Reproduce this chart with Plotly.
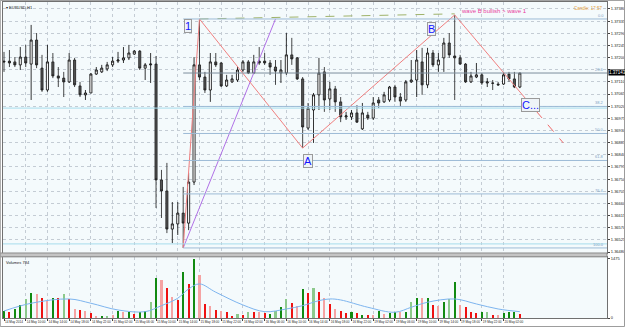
import plotly.graph_objects as go
from plotly.subplots import make_subplots

# ---------------- data ----------------
candle_open = [1.37187,1.37187,1.37184,1.37173,1.37202,1.37176,1.37265,1.37161,1.37080,1.37184,
               1.37132,1.37124,1.37110,1.37191,1.37095,1.37062,1.37069,1.37139,1.37147,1.37158,
               1.37173,1.37187,1.37191,1.37199,1.37213,1.37224,1.37161,1.37173,1.37176,1.36747,
               1.36706,1.36565,1.36584,1.36624,1.36587,1.36739,1.37173,1.37128,1.37080,1.37184,
               1.37180,1.37095,1.37110,1.37117,1.37154,1.37184,1.37143,1.37187,1.37187,1.37180,
               1.37165,1.37143,1.37143,1.37210,1.37199,1.37121,1.36939,1.37006,1.37062,1.37147,
               1.37047,1.37084,1.37036,1.36980,1.36980,1.36995,1.36936,1.36987,1.36976,1.37043,
               1.37036,1.37043,1.37091,1.37054,1.37043,1.37110,1.37117,1.37184,1.37099,1.37217,
               1.37173,1.37199,1.37254,1.37206,1.37199,1.37176,1.37110,1.37128,1.37136,1.37106,
               1.37106,1.37102,1.37102,1.37139,1.37121,1.37091]
candle_high = [1.37221,1.37228,1.37202,1.37239,1.37247,1.37321,1.37291,1.37210,1.37247,1.37217,
               1.37165,1.37147,1.37217,1.37199,1.37110,1.37080,1.37143,1.37165,1.37173,1.37184,
               1.37202,1.37221,1.37239,1.37247,1.37228,1.37228,1.37180,1.37217,1.37206,1.36784,
               1.36810,1.36665,1.36665,1.36721,1.36773,1.37202,1.37343,1.37147,1.37217,1.37217,
               1.37184,1.37136,1.37136,1.37165,1.37191,1.37191,1.37210,1.37239,1.37217,1.37191,
               1.37191,1.37191,1.37291,1.37273,1.37202,1.37128,1.37032,1.37069,1.37199,1.37165,
               1.37110,1.37095,1.37054,1.36999,1.37006,1.37024,1.37032,1.36999,1.37054,1.37054,
               1.37073,1.37095,1.37099,1.37069,1.37117,1.37191,1.37228,1.37236,1.37236,1.37228,
               1.37217,1.37273,1.37291,1.37358,1.37210,1.37180,1.37147,1.37180,1.37143,1.37124,
               1.37117,1.37110,1.37147,1.37147,1.37147,1.37143]
candle_low = [1.37147,1.37165,1.37165,1.37154,1.37165,1.37043,1.37161,1.37073,1.37073,1.37124,
              1.37091,1.37054,1.37106,1.37091,1.37054,1.37043,1.37069,1.37136,1.37143,1.37150,
              1.37165,1.37180,1.37180,1.37191,1.37210,1.37154,1.37117,1.37106,1.36643,1.36606,
              1.36550,1.36513,1.36543,1.36495,1.36561,1.36728,1.37117,1.37069,1.37036,1.37165,
              1.37091,1.37091,1.37106,1.37110,1.37147,1.37139,1.37139,1.37173,1.37173,1.37136,
              1.37099,1.37106,1.37136,1.37173,1.37117,1.36865,1.36932,1.36884,1.37006,1.36999,
              1.37006,1.36999,1.36961,1.36969,1.36969,1.36958,1.36932,1.36969,1.36969,1.37013,
              1.37032,1.37036,1.37036,1.37017,1.37036,1.37106,1.37054,1.37062,1.37087,1.37165,
              1.37147,1.37147,1.37199,1.37043,1.37173,1.37106,1.37106,1.37124,1.37099,1.37091,
              1.37080,1.37095,1.37099,1.37110,1.37087,1.37087]
candle_close = [1.37184,1.37180,1.37173,1.37202,1.37180,1.37265,1.37173,1.37080,1.37184,1.37132,
                1.37124,1.37110,1.37191,1.37099,1.37062,1.37069,1.37139,1.37154,1.37161,1.37173,
                1.37187,1.37191,1.37199,1.37217,1.37224,1.37161,1.37173,1.37176,1.36747,1.36706,
                1.36565,1.36584,1.36624,1.36587,1.36739,1.37173,1.37128,1.37080,1.37184,1.37173,
                1.37095,1.37117,1.37121,1.37154,1.37184,1.37143,1.37184,1.37180,1.37180,1.37165,
                1.37150,1.37154,1.37210,1.37195,1.37121,1.36943,1.37013,1.37062,1.37143,1.37043,
                1.37084,1.37036,1.36980,1.36984,1.36995,1.36961,1.36995,1.36976,1.37032,1.37032,
                1.37062,1.37091,1.37054,1.37039,1.37110,1.37117,1.37191,1.37099,1.37217,1.37173,
                1.37191,1.37254,1.37210,1.37199,1.37176,1.37110,1.37132,1.37136,1.37106,1.37110,
                1.37105,1.37099,1.37136,1.37121,1.37091,1.37143]

volume = [183,143,225,325,475,625,600,493,418,500,
          493,600,475,225,200,183,125,58,58,58,
          75,183,158,158,100,158,183,400,1000,950,
          743,518,458,1158,850,1475,1083,350,293,200,
          183,143,58,100,75,158,158,143,118,100,
          183,268,475,368,308,725,625,743,658,500,
          350,225,183,125,143,118,75,75,75,168,
          100,125,158,143,143,408,500,500,500,333,
          308,408,475,893,333,268,158,125,143,158,
          75,75,118,158,158,100]
volume_kind = ["g","r","g","g","lg","g","p","r","p","g",
               "r","lg","r","p","r","p","r","p","g","lg",
               "p","g","p","g","r","g","g","lg","g","p",
               "r","p","r","g","r","g","p","r","p","r",
               "p","r","r","lg","r","lg","r","p","r","g",
               "lg","g","lg","r","p","g","r","lg","r","p",
               "r","p","r","r","g","r","g","r","p","g",
               "p","g","g","p","g","lg","g","p","g","r",
               "p","g","lg","g","p","r","r","r","g","lg",
               "r","p","g","g","g","r"]
vol_ma_idx = [0, 5, 12, 16, 21, 26, 29, 32, 34, 36, 39, 44, 48, 52, 55, 58, 60, 62, 67, 72, 75, 78, 83, 87, 91, 95]
vol_ma_val = [175, 368, 475, 368, 200, 158, 308, 493, 725, 850, 643, 325, 158, 225, 308, 433, 475, 450, 268, 143, 268, 393, 475, 350, 225, 158]

wave_idx = [33, 36, 55, 83, 98]
wave_price = [1.36495, 1.37343, 1.36865, 1.37358, 1.37002]
wave_labels = ["", "1", "A", "B", "C..."]
proj_idx = [98, 103]
proj_price = [1.37002, 1.36884]
trend_idx = [33, 50]
trend_price = [1.36495, 1.37343]
top_line_idx = [36, 83]
top_line_price = [1.37343, 1.37362]
fib_levels = [0.0, 23.6, 38.2, 50.0, 61.8, 76.4, 100.0]
hline_prices = [1.37013, 1.36510]

price_ticks = [1.36480, 1.36525, 1.36570, 1.36615, 1.36660, 1.36705, 1.36750, 1.36795, 1.36840,
               1.36885, 1.36930, 1.36975, 1.37020, 1.37065, 1.37110, 1.37155, 1.37200, 1.37245,
               1.37290, 1.37335, 1.37380]
date_tick_idx = [0, 4, 8, 12, 16, 20, 24, 28, 32, 36, 40, 44, 48, 52, 56, 60, 64, 68, 72, 76, 80, 84, 88, 92]
date_tick_labels = ["14 May 2014", "14 May 10:00", "14 May 14:00", "14 May 18:00", "14 May 22:00",
                    "15 May 02:00", "15 May 06:00", "15 May 10:00", "15 May 14:00", "15 May 18:00",
                    "15 May 22:00", "16 May 02:00", "16 May 06:00", "16 May 10:00", "16 May 14:00",
                    "16 May 18:00", "16 May 22:00", "19 May 02:00", "19 May 06:00", "19 May 10:00",
                    "19 May 14:00", "19 May 18:00", "19 May 22:00", "20 May 02:00"]

# ---------------- style ----------------
FONT = "Liberation Sans"
X_RANGE = [-0.184, 111.05]
Y_RANGE = [1.364763, 1.374059]
V_RANGE = [0, 1525]
VOL_COLORS = {"g": "#118a11", "lg": "#8cc98c", "r": "#ee1111", "p": "#f5a3a3"}
GRID = "#c4ccd4"

n = len(candle_open)
idx = list(range(n))
last_close = candle_close[-1]
# MT4 hides the scale label that sits under the highlighted current-price box
price_ticktext = ["" if abs(p - last_close) < 0.00025 else f"{p:.5f}" for p in price_ticks]

fig = make_subplots(rows=2, cols=1, shared_xaxes=True, vertical_spacing=0.01)

fig.add_trace(go.Candlestick(
    x=idx, open=candle_open, high=candle_high, low=candle_low, close=candle_close,
    increasing=dict(line=dict(color="#000000", width=0.8), fillcolor="#ffffff"),
    decreasing=dict(line=dict(color="#1a1a1a", width=0.8), fillcolor="#555555"),
    whiskerwidth=0, hoverinfo="skip"), row=1, col=1)

fig.add_trace(go.Scatter(x=trend_idx, y=trend_price, mode="lines",
                         line=dict(color="#b070e6", width=1), hoverinfo="skip"), row=1, col=1)
fig.add_trace(go.Scatter(x=top_line_idx, y=top_line_price, mode="lines",
                         line=dict(color="#9fb36a", width=1, dash="dash"), hoverinfo="skip"), row=1, col=1)
fig.add_trace(go.Scatter(x=wave_idx, y=wave_price, mode="lines",
                         line=dict(color="#f07f7f", width=1), hoverinfo="skip"), row=1, col=1)
fig.add_trace(go.Scatter(x=proj_idx, y=proj_price, mode="lines",
                         line=dict(color="#f06a6a", width=1, dash="dash"), hoverinfo="skip"), row=1, col=1)

fig.add_trace(go.Bar(x=idx, y=volume, width=0.38,
                     marker=dict(color=[VOL_COLORS[k] for k in volume_kind], line=dict(width=0)),
                     hoverinfo="skip"), row=2, col=1)
fig.add_trace(go.Scatter(x=vol_ma_idx, y=vol_ma_val, mode="lines", line_shape="spline",
                         line=dict(color="#7db4ee", width=1), hoverinfo="skip"), row=2, col=1)

shapes = []
annotations = []

for p in hline_prices:
    shapes.append(dict(type="line", xref="paper", yref="y", x0=0, x1=1, y0=p, y1=p,
                       line=dict(color="#a6dcec", width=1)))

fib_hi, fib_lo = wave_price[1], wave_price[0]
for lv in fib_levels:
    p = fib_hi - lv / 100.0 * (fib_hi - fib_lo)
    col = "#7d8d9c" if lv == 23.6 else "#9dbbd6"
    shapes.append(dict(type="line", xref="x", yref="y", x0=wave_idx[0], x1=X_RANGE[1], y0=p, y1=p,
                       line=dict(color=col, width=1)))
    annotations.append(dict(xref="paper", yref="y", x=1, y=p, xanchor="right", yanchor="bottom",
                            xshift=-1, yshift=-1, text=f"{lv:.1f}", showarrow=False,
                            font=dict(family=FONT, size=4, color="#7fa3c4")))

shapes.append(dict(type="rect", xref="paper", yref="paper", x0=-0.006, x1=1.0, y0=0.1935, y1=0.2057,
                   fillcolor="#c4c4c4", line=dict(color="#8a8a8a", width=1), layer="above"))
shapes.append(dict(type="rect", xref="paper", yref="paper", x0=-0.0045, x1=1.029, y0=-0.027, y1=1.005,
                   line=dict(color="#9a9a9a", width=1), fillcolor="rgba(0,0,0,0)"))

label_shift = {"1": (-11, -7), "A": (5, -13), "B": (-23, -14), "C...": (-6, 6)}
for i, p, lab in zip(wave_idx, wave_price, wave_labels):
    if not lab:
        continue
    dx, dy = label_shift[lab]
    annotations.append(dict(xref="x", yref="y", x=i, y=p, xshift=dx, yshift=dy, text=lab,
                            showarrow=False, font=dict(family=FONT, size=11, color="#1414ff"),
                            bgcolor="#eef3f7", bordercolor="#9a9a9a", borderwidth=1, borderpad=0))

annotations.append(dict(xref="x", yref="y", x=wave_idx[3], y=wave_price[3], xanchor="left",
                        xshift=4, yshift=4, text="wave B bullish > wave 1", showarrow=False,
                        font=dict(family=FONT, size=6, color="#e8409c")))
annotations.append(dict(xref="paper", yref="paper", x=0, y=1, xanchor="left", yanchor="top",
                        xshift=1, yshift=-1, text="▾ EURUSD,H1", showarrow=False,
                        font=dict(family=FONT, size=4, color="#202020")))
annotations.append(dict(xref="paper", yref="paper", x=1, y=1, xanchor="right", yanchor="top",
                        xshift=-2, yshift=-2, text="Candle: 17:57", showarrow=False,
                        font=dict(family=FONT, size=4.5, color="#e8a33c")))
annotations.append(dict(xref="paper", yref="paper", x=0, y=0.193, xanchor="left", yanchor="top",
                        xshift=1, yshift=-1, text="Volumes 784", showarrow=False,
                        font=dict(family=FONT, size=4, color="#202020")))
annotations.append(dict(xref="paper", yref="y", x=1, y=last_close, xanchor="left",
                        xshift=1, text=f"{last_close:.5f}", showarrow=False, bgcolor="#000000",
                        font=dict(family=FONT, size=4.5, color="#ffffff"), borderpad=0))

fig.update_layout(
    width=625, height=327, margin=dict(l=3, r=18, t=2, b=9, autoexpand=False),
    paper_bgcolor="#ffffff", plot_bgcolor="#f4fafc", showlegend=False,
    boxgap=0.45, bargap=0, shapes=shapes, annotations=annotations,
    font=dict(family=FONT, size=4, color="#202020"),
    xaxis=dict(range=X_RANGE, rangeslider=dict(visible=False), showticklabels=False,
               tickvals=date_tick_idx, ticks="", showgrid=True, gridcolor=GRID, griddash="dot",
               gridwidth=1, showline=True, mirror=True, linecolor="#707070", zeroline=False,
               automargin=False),
    xaxis2=dict(range=X_RANGE, tickvals=date_tick_idx, ticktext=date_tick_labels, tickangle=0,
                ticklabelposition="outside right", ticks="outside", ticklen=2, tickcolor="#404040",
                tickfont=dict(family=FONT, size=3.1, color="#202020"),
                showgrid=True, gridcolor=GRID, griddash="dot", gridwidth=1,
                showline=True, mirror=True, linecolor="#707070", zeroline=False, automargin=False),
    yaxis=dict(domain=[0.2057, 1.0], range=Y_RANGE, side="right", tickvals=price_ticks,
               ticktext=price_ticktext, ticks="outside", ticklen=2,
               tickcolor="#404040", tickfont=dict(family=FONT, size=4, color="#202020"),
               showgrid=True, gridcolor=GRID, griddash="dot", gridwidth=1,
               showline=True, mirror=True, linecolor="#707070", zeroline=False, automargin=False),
    yaxis2=dict(domain=[0.0, 0.1935], range=V_RANGE, side="right", tickvals=[1475, 0],
                ticktext=["1475", "0"], ticks="outside", ticklen=2, tickcolor="#404040",
                tickfont=dict(family=FONT, size=4, color="#202020"), showgrid=False,
                showline=True, mirror=True, linecolor="#707070", zeroline=False, automargin=False),
)

fig.write_html("out.html")
